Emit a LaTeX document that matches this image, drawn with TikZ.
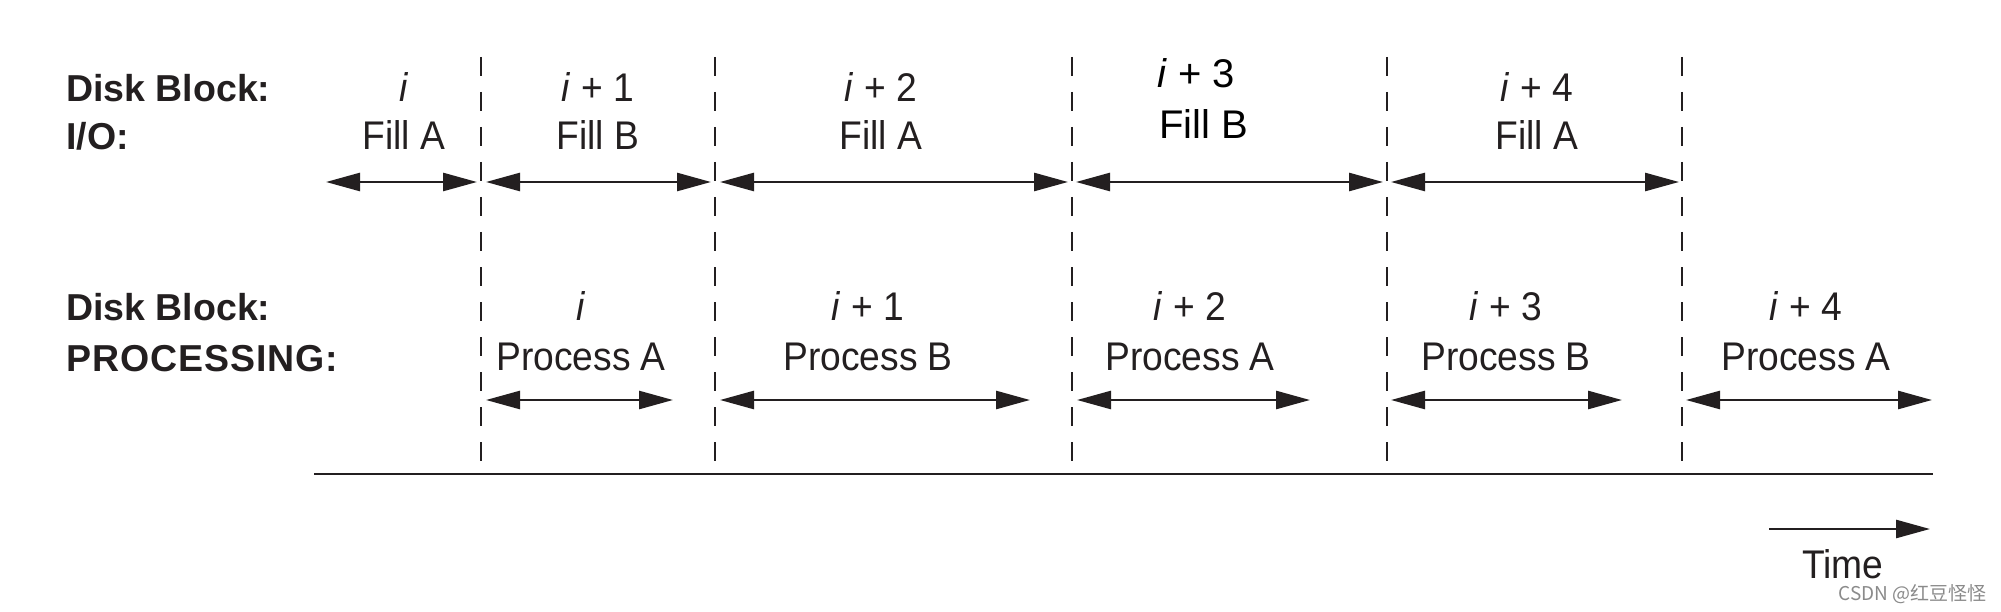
\documentclass[tikz,border=0pt]{standalone}
\usepackage{fontspec}
\setmainfont{Liberation Sans}
\newfontfamily\condfont[FakeStretch=0.93]{Liberation Sans}
\newfontfamily\cjkfont{Noto Sans CJK SC}
\usetikzlibrary{arrows.meta}
\definecolor{ink}{HTML}{231F20}
\definecolor{wm}{HTML}{8A8A8A}
\tikzset{
  lbl/.style={font=\fontsize{37.5}{40}\selectfont\bfseries, text=ink, anchor=base west, inner sep=0pt},
  txt/.style={font=\condfont\fontsize{40}{44}\selectfont, text=ink, anchor=base, inner sep=0pt},
  edited/.style={font=\fontsize{40}{44}\selectfont, text=black, anchor=base west, inner sep=0pt},
  divider/.style={draw=ink, line width=2.5pt, dash pattern=on 19pt off 16pt},
  span/.style={draw=ink, line width=2.6pt, {Triangle[length=34pt,width=18pt]}-{Triangle[length=34pt,width=18pt]}},
  onearrow/.style={draw=ink, line width=2.6pt, -{Triangle[length=34pt,width=18pt]}},
  axis/.style={draw=ink, line width=2.8pt},
}
\begin{document}
\begin{tikzpicture}[x=1pt,y=-1pt]
\useasboundingbox (0,0) rectangle (2001,612);

% left labels
\node[lbl] (lt1) at (66,102) {Disk Block:};
\node[lbl] (lt2) at (66,150) {I/O:};
\node[lbl] (lb1) at (66,320) {Disk Block:};
\node[lbl, font=\fontsize{37.5}{40}\selectfont\bfseries\addfontfeature{LetterSpace=2.5}] (lb2) at (66,371) {PROCESSING:};

% dividers
\foreach \n/\x in {1/481,2/715,3/1072,4/1387,5/1682}{
  \coordinate (d\n t) at (\x,57);
  \coordinate (d\n b) at (\x,466);
  \draw[divider] (d\n t) -- (d\n b);
}

% top row texts
\node[txt] (ti0) at (404,102) {\textit{i}};
\node[txt] (tf0) at (404,150) {Fill A};
\node[txt] (ti1) at (598,102) {\textit{i} + 1};
\node[txt] (tf1) at (598,150) {Fill B};
\node[txt] (ti2) at (881,102) {\textit{i} + 2};
\node[txt] (tf2) at (881,150) {Fill A};
\node[edited] (ti3) at (1157,88) {\textit{i} + 3};
\node[edited] (tf3) at (1159,139) {Fill B};
\node[txt] (ti4) at (1537,102) {\textit{i} + 4};
\node[txt] (tf4) at (1537,150) {Fill A};

% top arrows
\coordinate (ta0l) at (326,182);  \coordinate (ta0r) at (477,182);
\coordinate (ta1l) at (486,182);  \coordinate (ta1r) at (711,182);
\coordinate (ta2l) at (720,182);  \coordinate (ta2r) at (1068,182);
\coordinate (ta3l) at (1076,182); \coordinate (ta3r) at (1383,182);
\coordinate (ta4l) at (1391,182); \coordinate (ta4r) at (1679,182);
\foreach \k in {0,...,4}{ \draw[span] (ta\k l) -- (ta\k r); }

% bottom row texts
\node[txt] (bi0) at (581,320) {\textit{i}};
\node[txt] (bp0) at (581,370) {Process A};
\node[txt] (bi1) at (868,320) {\textit{i} + 1};
\node[txt] (bp1) at (868,370) {Process B};
\node[txt] (bi2) at (1190,320) {\textit{i} + 2};
\node[txt] (bp2) at (1190,370) {Process A};
\node[txt] (bi3) at (1506,320) {\textit{i} + 3};
\node[txt] (bp3) at (1506,370) {Process B};
\node[txt] (bi4) at (1806,320) {\textit{i} + 4};
\node[txt] (bp4) at (1806,370) {Process A};

% bottom arrows
\coordinate (ba0l) at (486,400);  \coordinate (ba0r) at (673,400);
\coordinate (ba1l) at (720,400);  \coordinate (ba1r) at (1030,400);
\coordinate (ba2l) at (1077,400); \coordinate (ba2r) at (1310,400);
\coordinate (ba3l) at (1391,400); \coordinate (ba3r) at (1622,400);
\coordinate (ba4l) at (1686,400); \coordinate (ba4r) at (1932,400);
\foreach \k in {0,...,4}{ \draw[span] (ba\k l) -- (ba\k r); }

% time axis
\coordinate (axl) at (314,474); \coordinate (axr) at (1933,474);
\draw[axis] (axl) -- (axr);

% time arrow
\coordinate (tml) at (1769,529); \coordinate (tmr) at (1930,529);
\draw[onearrow] (tml) -- (tmr);
\node[txt] (time) at (1843,578) {Time};

% watermark
\node[anchor=base east, inner sep=0pt, text=wm, font=\fontsize{19}{21}\selectfont\cjkfont] (wmk) at (1987,600) {CSDN @红豆怪怪};
\end{tikzpicture}
\end{document}
